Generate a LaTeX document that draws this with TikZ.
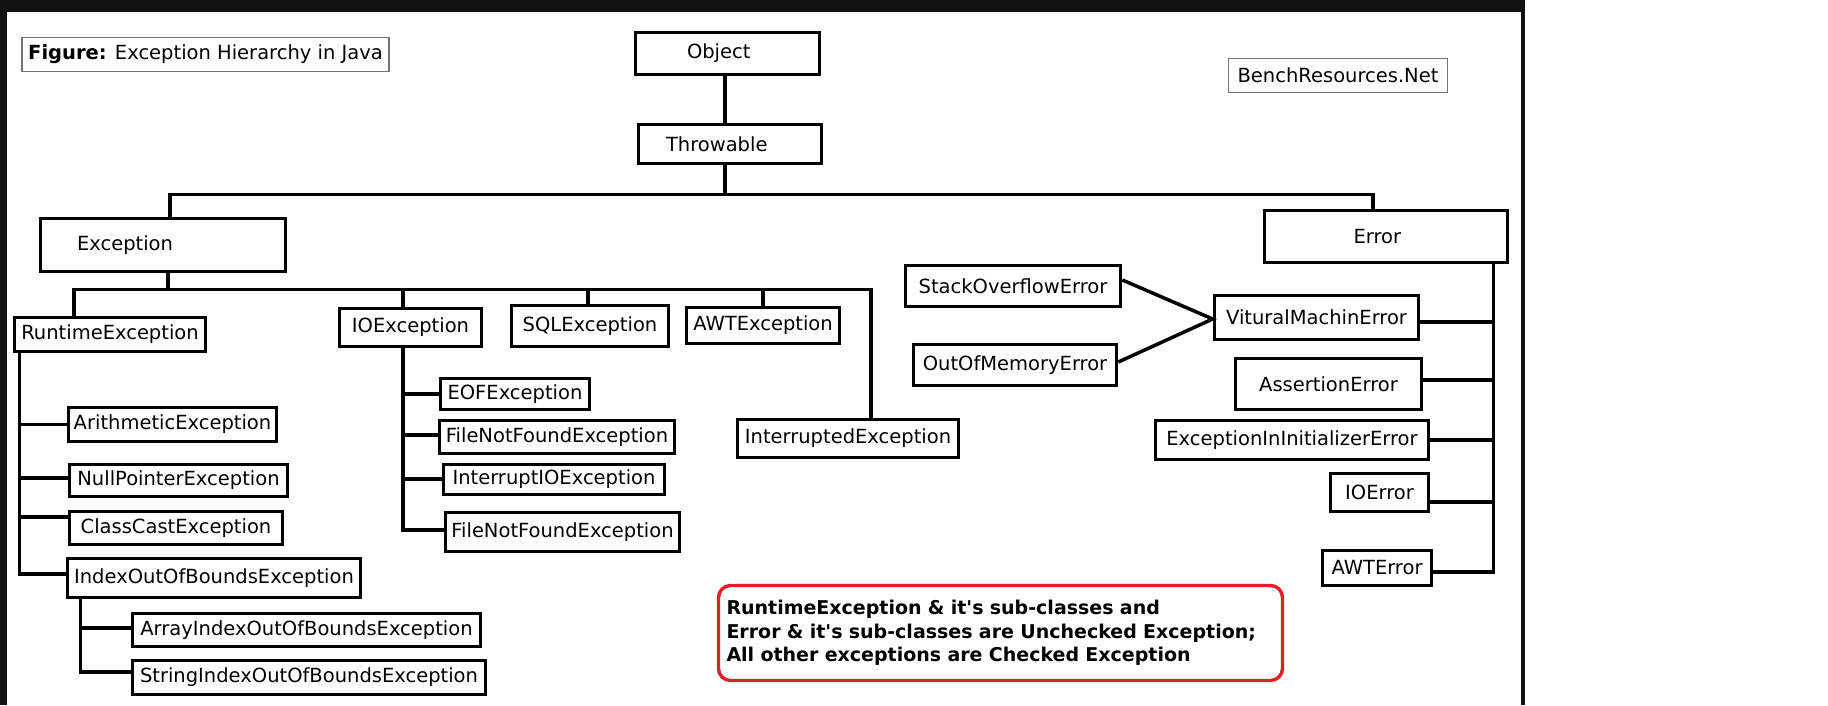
\documentclass[tikz,border=0pt]{standalone}
\usepackage{fontspec}
\setmainfont{DejaVu Sans}
\usepackage{xcolor}
\usepackage{tikz}
\definecolor{framegray}{RGB}{18,18,18}
\definecolor{notered}{RGB}{226,30,38}

\begin{document}
\begin{tikzpicture}[x=1pt, y=-1pt,
    cls/.style={draw=black, line width=3.6pt, inner sep=0pt, font=\fontsize{19.5}{23}\selectfont},
    tag/.style={draw=black!55, line width=1.2pt, inner sep=0pt, font=\fontsize{19.5}{23}\selectfont},
    conn/.style={line width=3.5pt}]
  \useasboundingbox (0,0) rectangle (1828,705);
  \fill[white] (0,0) rectangle (1828,705);

  %% Frame
  \fill[framegray] (0,0) rectangle (1525,12);
  \fill[framegray] (0,0) rectangle (7,705);
  \fill[framegray] (1521,12) rectangle (1525,705);

  %% Labels
  \node[tag, minimum width=367pt, minimum height=34pt] (title) at (205.5,54.5) {\textbf{Figure:} Exception Hierarchy in Java};
  \node[tag, minimum width=219pt, minimum height=34pt] (bench) at (1338,75.5) {BenchResources.Net};

  %% Top of the tree
  \node[cls, minimum width=184pt, minimum height=42pt, text width=81pt, align=left] (obj) at (727.5,53.5) {Object};
  \node[cls, minimum width=183pt, minimum height=39pt, text width=128pt, align=left] (thr) at (730,144) {Throwable};
  \node[cls, minimum width=245pt, minimum height=53pt, text width=172pt, align=left] (exc) at (163,245) {Exception};
  \node[cls, minimum width=243pt, minimum height=52pt, text width=65pt, align=left] (err) at (1386,236.5) {Error};

  %% Exception branch
  \node[cls, minimum width=191pt, minimum height=34pt] (rte) at (110,334.5) {RuntimeException};
  \node[cls, minimum width=142pt, minimum height=38pt] (ioe) at (410.5,327.5) {IOException};
  \node[cls, minimum width=157pt, minimum height=41pt] (sql) at (590,326) {SQLException};
  \node[cls, minimum width=153pt, minimum height=36pt] (awt) at (763,325.5) {AWTException};
  \node[cls, minimum width=221pt, minimum height=38pt] (int) at (848,438.5) {InterruptedException};

  \node[cls, minimum width=208pt, minimum height=34pt] (ari) at (172.5,424.5) {ArithmeticException};
  \node[cls, minimum width=218pt, minimum height=32pt] (npe) at (178.5,480.5) {NullPointerException};
  \node[cls, minimum width=213pt, minimum height=33pt] (cce) at (176,528) {ClassCastException};
  \node[cls, minimum width=293pt, minimum height=39pt] (ioob) at (214,578) {IndexOutOfBoundsException};
  \node[cls, minimum width=348pt, minimum height=33pt] (aioob) at (306.5,630) {ArrayIndexOutOfBoundsException};
  \node[cls, minimum width=353pt, minimum height=34pt] (sioob) at (309,677.5) {StringIndexOutOfBoundsException};

  \node[cls, minimum width=149pt, minimum height=31pt] (eof) at (515,394) {EOFException};
  \node[cls, minimum width=235pt, minimum height=33pt] (fnf) at (557,437) {FileNotFoundException};
  \node[cls, minimum width=221pt, minimum height=30pt] (iio) at (554,479.5) {InterruptIOException};
  \node[cls, minimum width=234pt, minimum height=39pt] (fnfb) at (562.5,532) {FileNotFoundException};

  %% Error branch
  \node[cls, minimum width=215pt, minimum height=41pt] (soe) at (1013,286) {StackOverflowError};
  \node[cls, minimum width=203pt, minimum height=41pt] (oom) at (1015,365) {OutOfMemoryError};
  \node[cls, minimum width=204pt, minimum height=44pt] (vme) at (1316.5,317.5) {VituralMachinError};
  \node[cls, minimum width=186pt, minimum height=51pt] (ase) at (1328.5,384) {AssertionError};
  \node[cls, minimum width=273pt, minimum height=39pt] (eiie) at (1292,440) {ExceptionInInitializerError};
  \node[cls, minimum width=98pt, minimum height=38pt] (ioerr) at (1379.5,492.5) {IOError};
  \node[cls, minimum width=109pt, minimum height=35pt] (awterr) at (1377,568) {AWTError};

  %% Note
  \node[draw=notered, line width=3.4pt, rounded corners=12pt, minimum width=564pt, minimum height=95pt,
        inner xsep=8pt, text width=548pt, align=left, font=\fontsize{19}{23.5}\selectfont\bfseries] (note) at (1000.5,633)
    {RuntimeException \& it\textquotesingle s sub-classes and\\
     Error \& it\textquotesingle s sub-classes are Unchecked Exception;\\
     All other exceptions are Checked Exception};

  %% Connectors
  \draw[conn] ([xshift=-2.5pt]obj.south) -- ([xshift=-2.5pt]obj.south |- thr.north);
  \draw[conn] ([xshift=-5pt]thr.south) -- ++(0,29) coordinate (tbus);
  \draw[conn] ([xshift=7pt]exc.north) |- (tbus) -| ([xshift=-13pt]err.north);

  \draw[conn] ([xshift=5pt]exc.south) -- ++(0,16) coordinate (ebus);
  \foreach \c/\dx in {rte/-36, ioe/-7.5, sql/-2, awt/0, int/23}
    \draw[conn] (ebus) -| ([xshift=\dx pt]\c.north);

  \foreach \c/\dy in {ari/0, npe/2.5, cce/11, ioob/4}
    \draw[conn] ([xshift=7pt]rte.south west) |- ([yshift=\dy pt]\c.west);
  \foreach \c/\dy in {aioob/2, sioob/5.5}
    \draw[conn] ([xshift=15pt]ioob.south west) |- ([yshift=\dy pt]\c.west);
  \foreach \c/\dy in {eof/0, fnf/2, iio/0.5, fnfb/2}
    \draw[conn] ([xshift=-7.5pt]ioe.south) |- ([yshift=\dy pt]\c.west);

  \foreach \c/\dy in {vme/-4.5, ase/4, eiie/0, ioerr/-9.5, awterr/-4}
    \draw[conn] ([xshift=-16pt]err.south east) |- ([yshift=\dy pt]\c.east);
  \draw[conn] ([yshift=6pt]soe.east) -- ([yshift=-1.5pt]vme.west) -- ([yshift=3pt]oom.east);
\end{tikzpicture}
\end{document}
